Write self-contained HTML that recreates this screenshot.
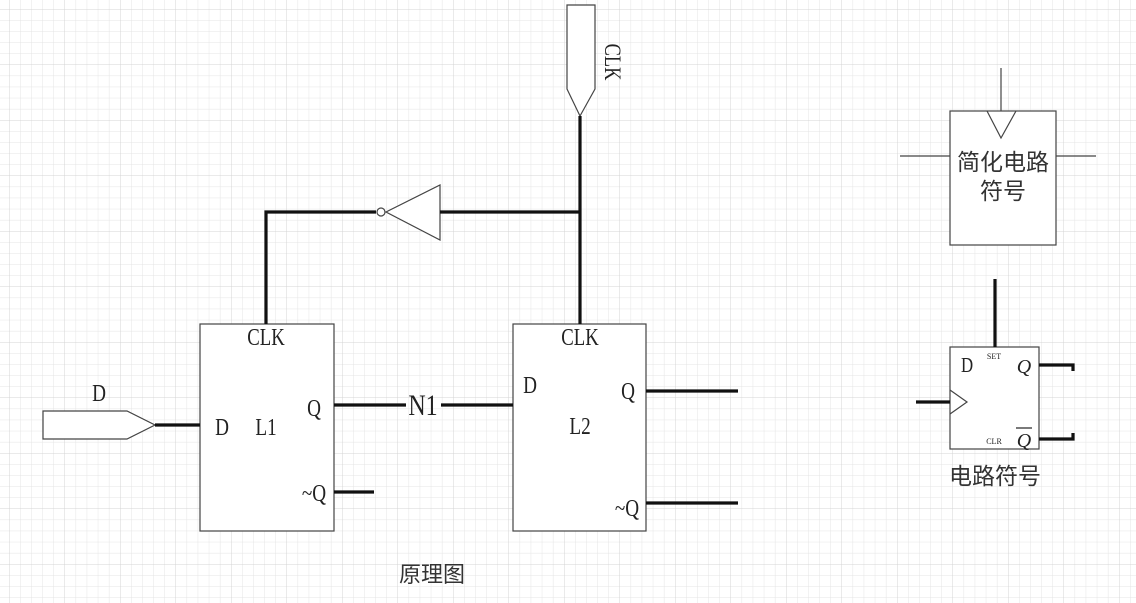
<!DOCTYPE html>
<html><head><meta charset="utf-8"><style>
html,body{margin:0;padding:0;background:#fff}
svg{display:block}
text{font-family:"Liberation Serif","Noto Serif CJK SC",serif;fill:#222}
.cjk{font-family:"Liberation Sans","Noto Sans CJK SC",sans-serif;fill:#333}
</style></head><body>
<svg width="1136" height="603" viewBox="0 0 1136 603" xmlns="http://www.w3.org/2000/svg">
<defs>
<pattern id="g" x="9" y="9" width="11.1" height="11.1" patternUnits="userSpaceOnUse">
<path d="M0 0V11.1M0 0H11.1" stroke="#e4e4e4" stroke-width="1" fill="none"/>
</pattern>
<pattern id="G" x="9" y="9" width="55.5" height="55.5" patternUnits="userSpaceOnUse">
<path d="M0 0V55.5M0 0H55.5" stroke="#d4d4d4" stroke-width="1" fill="none"/>
</pattern>
</defs>
<rect width="1136" height="603" fill="#fff"/>
<rect width="1136" height="603" fill="url(#g)"/>
<rect width="1136" height="603" fill="url(#G)"/>

<g fill="#fff" stroke="#444" stroke-width="1.2">
<rect x="200" y="324" width="134" height="207"/>
<rect x="513" y="324" width="133" height="207"/>
<polygon points="43,411 127,411 155,425 127,439 43,439"/>
<polygon points="567,5 595,5 595,89 580,116 567,89"/>
<polygon points="440,185 440,240 386,212"/>
<circle cx="381" cy="212" r="4"/>
<rect x="950" y="111" width="106" height="134"/>
<rect x="950" y="347" width="89" height="102"/>
</g>
<g stroke="#444" stroke-width="1.2" fill="none">
<polyline points="987,111 1001,138 1016,111"/>
<line x1="1001" y1="68" x2="1001" y2="111"/>
<line x1="900" y1="156" x2="950" y2="156"/>
<line x1="1056" y1="156" x2="1096" y2="156"/>
<polyline points="950,390 967,402 950,414"/>
</g>
<g stroke="#111" stroke-width="3.2" fill="none">
<line x1="580" y1="116" x2="580" y2="324"/>
<line x1="440" y1="212" x2="580" y2="212"/>
<polyline points="376,212 266,212 266,324"/>
<line x1="155" y1="425" x2="200" y2="425"/>
<line x1="334" y1="405" x2="406" y2="405"/>
<line x1="441" y1="405" x2="513" y2="405"/>
<line x1="334" y1="492" x2="374" y2="492"/>
<line x1="646" y1="391" x2="738" y2="391"/>
<line x1="646" y1="503" x2="738" y2="503"/>
<line x1="995" y1="279" x2="995" y2="347"/>
<line x1="916" y1="402" x2="950" y2="402"/>
<polyline points="1039,365 1073,365 1073,371"/>
<polyline points="1039,439 1073,439 1073,433"/>
</g>

<g font-size="24">
<text transform="translate(266 345) scale(0.78 1)" text-anchor="middle">CLK</text>
<text transform="translate(580 345) scale(0.78 1)" text-anchor="middle">CLK</text>
<text transform="translate(99 401) scale(0.8 1)" text-anchor="middle">D</text>
<text transform="translate(222 435) scale(0.8 1)" text-anchor="middle">D</text>
<text transform="translate(266 435) scale(0.8 1)" text-anchor="middle">L1</text>
<text transform="translate(314 416) scale(0.8 1)" text-anchor="middle">Q</text>
<text transform="translate(314 501) scale(0.8 1)" text-anchor="middle">~Q</text>
<text transform="translate(530 393) scale(0.8 1)" text-anchor="middle">D</text>
<text transform="translate(580 434) scale(0.8 1)" text-anchor="middle">L2</text>
<text transform="translate(628 399) scale(0.8 1)" text-anchor="middle">Q</text>
<text transform="translate(627 516) scale(0.8 1)" text-anchor="middle">~Q</text>
<text transform="translate(967 372) scale(0.8 1)" text-anchor="middle" font-size="21">D</text>
</g>
<text transform="translate(423 415) scale(0.8 1)" text-anchor="middle" font-size="30">N1</text>
<text x="0" y="0" font-size="23" text-anchor="middle" transform="translate(605 62) rotate(90) scale(0.8 1)">CLK</text>
<text x="994" y="359" text-anchor="middle" font-size="8">SET</text>
<text x="994" y="444" text-anchor="middle" font-size="8">CLR</text>
<text x="1024" y="373" text-anchor="middle" font-size="20" font-style="italic">Q</text>
<text x="1024" y="447" text-anchor="middle" font-size="20" font-style="italic">Q</text>
<line x1="1016" y1="428" x2="1032" y2="428" stroke="#222" stroke-width="1.2"/>

<text class="cjk" x="1003" y="170" text-anchor="middle" font-size="23">简化电路</text>
<text class="cjk" x="1003" y="199" text-anchor="middle" font-size="23">符号</text>
<text class="cjk" x="995" y="484" text-anchor="middle" font-size="23">电路符号</text>
<text class="cjk" x="432" y="582" text-anchor="middle" font-size="22">原理图</text>
</svg>
</body></html>
